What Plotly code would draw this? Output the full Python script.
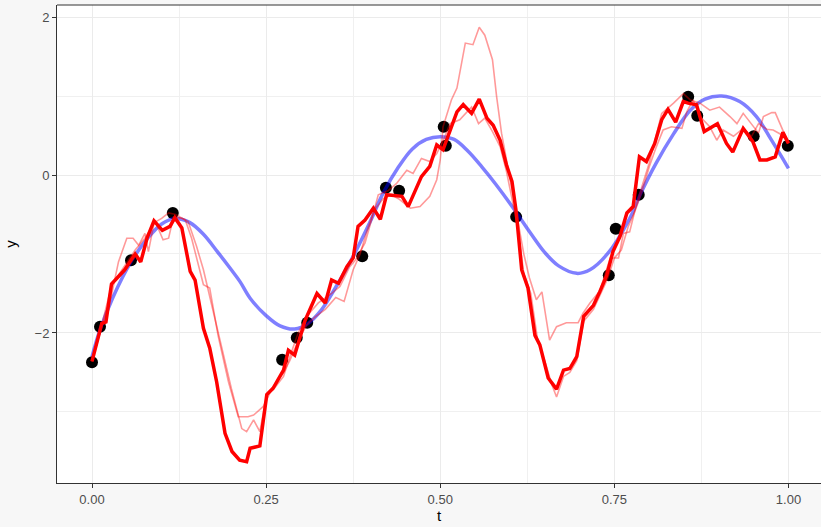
import plotly.graph_objects as go

# Observed data points
t_obs = [0.000, 0.0115, 0.056, 0.116, 0.273, 0.294, 0.309, 0.388, 0.422, 0.441,
         0.505, 0.508, 0.609, 0.742, 0.752, 0.785, 0.856, 0.869, 0.950, 0.999]
y_obs = [-2.37, -1.92, -1.08, -0.48, -2.34, -2.06, -1.87, -1.03, -0.16, -0.20,
         0.61, 0.37, -0.53, -1.27, -0.68, -0.25, 0.99, 0.75, 0.49, 0.37]

# Smooth mean curve
t_mean = [0.000, 0.0115, 0.030, 0.056, 0.080, 0.100, 0.119, 0.140, 0.160, 0.180,
          0.200, 0.2125, 0.227, 0.250, 0.270, 0.291, 0.310, 0.330, 0.350, 0.375,
          0.400, 0.418, 0.440, 0.460, 0.480, 0.500, 0.520, 0.540, 0.560, 0.580,
          0.605, 0.630, 0.650, 0.670, 0.696, 0.715, 0.740, 0.772, 0.787, 0.810,
          0.835, 0.859, 0.880, 0.904, 0.930, 0.954, 0.975, 1.000]
y_mean = [-2.30, -1.96, -1.55, -1.10, -0.80, -0.62, -0.55, -0.60, -0.75, -0.97,
          -1.20, -1.35, -1.56, -1.78, -1.91, -1.95, -1.88, -1.70, -1.42, -1.03,
          -0.58, -0.23, 0.10, 0.33, 0.45, 0.485, 0.45, 0.30, 0.10, -0.12,
          -0.42, -0.74, -0.98, -1.15, -1.245, -1.20, -1.00, -0.55, -0.25, 0.15,
          0.52, 0.82, 0.96, 1.00, 0.93, 0.74, 0.45, 0.085]

# Highlighted sample path
t_main = [0.000, 0.014, 0.020, 0.028, 0.047, 0.062, 0.070, 0.079, 0.089, 0.101,
          0.112, 0.119, 0.129, 0.141, 0.148, 0.160, 0.169, 0.179, 0.191, 0.201,
          0.212, 0.222, 0.227, 0.241, 0.251, 0.260, 0.275, 0.282, 0.291, 0.306,
          0.323, 0.335, 0.344, 0.354, 0.366, 0.375, 0.382, 0.392, 0.404, 0.414,
          0.423, 0.445, 0.454, 0.473, 0.485, 0.495, 0.504, 0.516, 0.524, 0.533,
          0.545, 0.556, 0.567, 0.576, 0.586, 0.595, 0.603, 0.609, 0.617, 0.626,
          0.636, 0.643, 0.655, 0.667, 0.677, 0.686, 0.696, 0.706, 0.720, 0.729,
          0.739, 0.748, 0.758, 0.768, 0.777, 0.786, 0.796, 0.808, 0.818, 0.827,
          0.838, 0.849, 0.856, 0.868, 0.879, 0.898, 0.911, 0.920, 0.935, 0.940,
          0.949, 0.959, 0.969, 0.981, 0.992, 1.000]
y_main = [-2.36, -1.88, -1.86, -1.38, -1.20, -1.00, -1.10, -0.80, -0.58, -0.70,
          -0.65, -0.54, -0.67, -1.22, -1.33, -1.94, -2.19, -2.62, -3.27, -3.50,
          -3.61, -3.63, -3.46, -3.43, -2.78, -2.70, -2.47, -2.22, -2.28, -1.84,
          -1.50, -1.62, -1.33, -1.37, -1.16, -1.05, -0.65, -0.57, -0.42, -0.56,
          -0.25, -0.27, -0.40, -0.02, 0.11, 0.38, 0.32, 0.59, 0.80, 0.89,
          0.78, 0.96, 0.72, 0.63, 0.44, 0.13, -0.08, -0.46, -1.20, -1.43,
          -2.03, -2.15, -2.57, -2.71, -2.47, -2.45, -2.30, -1.79, -1.65, -1.48,
          -1.27, -0.97, -0.78, -0.48, -0.40, 0.23, 0.17, 0.40, 0.70, 0.83,
          0.67, 0.93, 0.91, 0.89, 0.55, 0.65, 0.40, 0.29, 0.59, 0.53,
          0.42, 0.19, 0.19, 0.23, 0.54, 0.40]

# Additional sample paths (faded)
t_draw_a = [0.000, 0.014, 0.028, 0.047, 0.062, 0.076, 0.090, 0.100, 0.110, 0.120,
            0.134, 0.143, 0.160, 0.169, 0.181, 0.196, 0.210, 0.224, 0.232, 0.246,
            0.256, 0.266, 0.275, 0.284, 0.296, 0.308, 0.320, 0.335, 0.350, 0.362,
            0.375, 0.385, 0.395, 0.405, 0.418, 0.430, 0.440, 0.457, 0.471, 0.485,
            0.495, 0.500, 0.504, 0.516, 0.524, 0.536, 0.547, 0.556, 0.564, 0.575,
            0.581, 0.588, 0.603, 0.610, 0.620, 0.628, 0.638, 0.646, 0.657, 0.667,
            0.681, 0.698, 0.705, 0.715, 0.729, 0.744, 0.756, 0.763, 0.772, 0.782,
            0.800, 0.818, 0.835, 0.849, 0.859, 0.873, 0.887, 0.901, 0.916, 0.926,
            0.935, 0.945, 0.957, 0.964, 0.976, 0.981, 0.993, 1.000]
y_draw_a = [-2.36, -1.90, -1.40, -1.15, -0.95, -0.80, -0.60, -0.55, -0.48, -0.50,
            -0.57, -0.80, -1.39, -1.43, -2.03, -2.62, -3.06, -3.06, -3.04, -2.93,
            -2.75, -2.60, -2.50, -2.35, -2.10, -1.90, -1.80, -1.70, -1.55, -1.60,
            -1.20, -1.00, -0.70, -0.45, -0.30, -0.25, -0.30, -0.42, -0.40, -0.27,
            -0.06, 0.19, 0.61, 0.95, 1.10, 1.67, 1.65, 1.87, 1.77, 1.46,
            0.99, 0.53, -0.15, -0.51, -1.00, -1.30, -1.58, -1.48, -2.09, -1.92,
            -1.87, -1.87, -1.75, -1.62, -1.47, -1.05, -1.05, -0.74, -0.72, -0.36,
            0.15, 0.78, 0.91, 1.03, 0.95, 0.91, 0.82, 0.86, 0.74, 0.65,
            0.78, 0.67, 0.53, 0.74, 0.79, 0.79, 0.53, 0.40]

t_draw_b = [0.000, 0.014, 0.028, 0.038, 0.050, 0.059, 0.067, 0.076, 0.081, 0.090,
            0.102, 0.110, 0.117, 0.130, 0.138, 0.150, 0.160, 0.172, 0.185, 0.200,
            0.215, 0.222, 0.232, 0.241, 0.251, 0.260, 0.275, 0.284, 0.296, 0.308,
            0.325, 0.344, 0.356, 0.370, 0.378, 0.392, 0.402, 0.411, 0.425, 0.437,
            0.452, 0.461, 0.473, 0.485, 0.495, 0.505, 0.514, 0.528, 0.545, 0.555,
            0.564, 0.575, 0.586, 0.595, 0.603, 0.612, 0.620, 0.630, 0.640, 0.650,
            0.660, 0.667, 0.677, 0.686, 0.696, 0.706, 0.720, 0.730, 0.740, 0.750,
            0.760, 0.770, 0.780, 0.790, 0.800, 0.810, 0.820, 0.832, 0.847, 0.854,
            0.863, 0.873, 0.887, 0.897, 0.906, 0.921, 0.935, 0.947, 0.957, 0.969,
            0.978, 0.990, 1.000]
y_draw_b = [-2.36, -1.92, -1.52, -1.10, -0.80, -0.80, -0.89, -0.74, -0.97, -0.57,
            -0.82, -0.80, -0.53, -0.55, -0.59, -0.90, -1.20, -1.65, -2.10, -2.70,
            -3.21, -3.25, -3.10, -3.25, -2.78, -2.72, -2.55, -2.30, -2.00, -1.79,
            -1.62, -1.50, -1.41, -1.16, -1.08, -0.86, -0.55, -0.25, -0.20, -0.11,
            0.06, 0.02, 0.21, 0.17, 0.27, 0.45, 0.65, 0.70, 0.86, 0.65,
            0.72, 0.55, 0.36, 0.05, -0.30, -0.70, -1.25, -1.50, -2.10, -2.35,
            -2.65, -2.81, -2.55, -2.50, -2.35, -1.85, -1.70, -1.52, -1.32, -1.05,
            -0.95, -0.65, -0.45, -0.20, 0.10, 0.35, 0.57, 0.61, 0.59, 0.80,
            0.95, 0.74, 0.61, 0.44, 0.57, 0.49, 0.59, 0.49, 0.65, 0.58,
            0.57, 0.51, 0.40]

x_ticks = [0.0, 0.25, 0.5, 0.75, 1.0]
x_tick_labels = ["0.00", "0.25", "0.50", "0.75", "1.00"]
y_ticks = [-2, 0, 2]
y_tick_labels = ["\u22122", "0", "2"]

fig = go.Figure()

fig.add_trace(go.Scatter(
    x=t_obs, y=y_obs, mode="markers",
    marker=dict(color="black", size=12, line=dict(width=0)),
    showlegend=False, hoverinfo="skip"))

fig.add_trace(go.Scatter(
    x=t_mean, y=y_mean, mode="lines",
    line=dict(color="rgba(0,0,255,0.5)", width=3.5, shape="spline", smoothing=1.0),
    showlegend=False, hoverinfo="skip"))

for tx, ty in ((t_draw_a, y_draw_a), (t_draw_b, y_draw_b)):
    fig.add_trace(go.Scatter(
        x=tx, y=ty, mode="lines",
        line=dict(color="rgba(255,0,0,0.4)", width=1.6),
        showlegend=False, hoverinfo="skip"))

fig.add_trace(go.Scatter(
    x=t_main, y=y_main, mode="lines",
    line=dict(color="#FF0000", width=3.5),
    showlegend=False, hoverinfo="skip"))

axis_font = dict(family="Liberation Sans, Arial, sans-serif", size=13, color="#4D4D4D")
title_font = dict(family="Liberation Sans, Arial, sans-serif", size=15, color="black")

fig.update_layout(
    width=821, height=527,
    margin=dict(l=57, r=0, t=5, b=44),
    paper_bgcolor="#F7F7F7",
    plot_bgcolor="white",
    xaxis=dict(
        range=[-0.05025, 1.0467],
        tickvals=x_ticks, ticktext=x_tick_labels,
        ticks="outside", ticklen=4, tickcolor="#333333", tickwidth=1,
        showgrid=True, gridcolor="#EBEBEB", gridwidth=1.1,
        minor=dict(dtick=0.125, tick0=0.125, showgrid=True, gridcolor="#F0F0F0", gridwidth=0.6),
        zeroline=False, showline=True, linecolor="#333333", linewidth=1,
        tickfont=axis_font,
        title=dict(text="t", font=title_font, standoff=4),
    ),
    yaxis=dict(
        range=[-3.899, 2.152],
        tickvals=y_ticks, ticktext=y_tick_labels,
        ticks="outside", ticklen=4, tickcolor="#333333", tickwidth=1,
        showgrid=True, gridcolor="#EBEBEB", gridwidth=1.1,
        minor=dict(dtick=1, tick0=1, showgrid=True, gridcolor="#F0F0F0", gridwidth=0.6),
        zeroline=False, showline=True, linecolor="#333333", linewidth=1,
        tickfont=axis_font,
        title=dict(text="y", font=title_font, standoff=14),
    ),
    shapes=[dict(type="line", xref="paper", yref="paper", x0=0, x1=1, y0=1, y1=1,
                 line=dict(color="#333333", width=1))],
)

fig.write_html("out.html")
